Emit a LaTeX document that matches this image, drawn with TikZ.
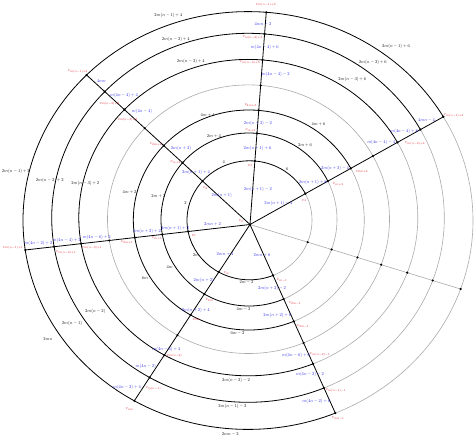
\documentclass[tikz,border=0pt]{standalone}
\usetikzlibrary{intersections,calc}
\definecolor{lblue}{RGB}{35,35,230}
\definecolor{lred}{RGB}{225,35,45}
\definecolor{lgray}{RGB}{170,170,170}
\tikzset{
  lab/.style={inner sep=0pt, outer sep=0pt, scale=0.45, transform shape},
  arclab/.style={lab, text=black},
  spokelab/.style={lab, text=lblue},
  vertlab/.style={lab, text=lred},
  blackline/.style={line width=0.8pt, draw=black},
  greyline/.style={line width=0.6pt, draw=lgray},
  vdot/.style={circle, fill=black, inner sep=0pt, minimum size=2.4pt},
}
\def\ringlist{1/249.5/220.3/62.5/59.5, 2/249/219.5/88/86.5, 3/248.8/220/115.5/110, 4/248.5/219.2/141/134.3, 5/248.3/217.6/169.5/158.2, 6/248/217.8/196.3/184.5, 7/248/220.5/225/208.9}
\def\blackrings{1/249.5/220.3/62.5/59.5, 2/249/219.5/88/86.5, 3/248.8/220/115.5/110, 5/248.3/217.6/169.5/158.2, 6/248/217.8/196.3/184.5, 7/248/220.5/225/208.9}
\begin{document}
\begin{tikzpicture}[x=1pt,y=-1pt]
\useasboundingbox (0,0) rectangle (474,440);
\coordinate (O) at (250,224.5);
\foreach \k/\cx/\cy/\a/\b in \ringlist{
  \path[name path global=ring\k] (\cx,\cy) ellipse [x radius=\a pt, y radius=\b pt];
}
\foreach \r/\px/\py in {W/25/250, NW/87.7/76, N/266.3/11.7, ENE/443/117, ESE/458.3/288.3, SSE/335/412.3, SSW/132.7/403.3}{
  \coordinate (T\r) at (\px,\py);
  \coordinate (F\r) at ($(O)!3!(T\r)$);
  \path[name path global=ray\r] (O) -- ($(O)!1.4!(T\r)$);
}
\foreach \r in {W,NW,N,ENE,ESE,SSE,SSW}{
  \foreach \k in {1,...,7}{
    \path[name intersections={of={ray\r} and {ring\k}, by={\r\k}}];
  }
}
% arcs
\begin{scope}
  \clip (O) -- (FENE) -- (FN) -- (FNW) -- (FW) -- (FSSW) -- (FSSE) -- cycle;
  \foreach \k/\cx/\cy/\a/\b in \blackrings{
    \draw[blackline] (\cx,\cy) ellipse [x radius=\a pt, y radius=\b pt];
  }
\end{scope}
\begin{scope}
  \clip (O) -- (FSSE) -- (FESE) -- (FENE) -- cycle;
  \foreach \k/\cx/\cy/\a/\b in \blackrings{
    \draw[greyline] (\cx,\cy) ellipse [x radius=\a pt, y radius=\b pt];
  }
\end{scope}
\draw[greyline] (248.5,219.2) ellipse [x radius=141pt, y radius=134.3pt];
% spokes
\draw[greyline] (O) -- (ESE7);
\foreach \r in {W,NW,N,ENE,SSE,SSW}{ \draw[blackline] (O) -- (\r7); }
% dots
\foreach \r in {W,NW,N,ENE,ESE,SSE,SSW}{
  \foreach \k in {1,...,7}{ \node[vdot] (d\r\k) at (\r\k) {}; }
}
\node[vdot] (dO) at (O) {};

% arc labels
\node[arclab] (aNE1) at (287,169.5) {$6$};
\node[arclab] (aNE2) at (305,145.5) {$2m+6$};
\node[arclab] (aNE3) at (318.5,124.5) {$4m+6$};
\node[arclab] (aNE5) at (352.3,79) {$2m(n-3)+6$};
\node[arclab] (aNE6) at (372.8,62.3) {$2m(n-2)+6$};
\node[arclab] (aNE7) at (396,46.7) {$2m(n-1)+6$};
\node[arclab] (aNN1) at (223.8,162.5) {$4$};
\node[arclab] (aNN2) at (213.8,136.7) {$2m+4$};
\node[arclab] (aNN3) at (207.5,115) {$4m+4$};
\node[arclab] (aNN5) at (190.8,61) {$2m(n-3)+4$};
\node[arclab] (aNN6) at (175.8,39.3) {$2m(n-2)+4$};
\node[arclab] (aNN7) at (168.3,15.7) {$2m(n-1)+4$};
\node[arclab] (aWN1) at (185.5,203) {$2$};
\node[arclab] (aWN2) at (158.3,196) {$2m+2$};
\node[arclab] (aWN3) at (129.5,192.7) {$4m+2$};
\node[arclab] (aWN5) at (85.3,183.7) {$2m(n-3)+2$};
\node[arclab] (aWN6) at (49.8,180.7) {$2m(n-2)+2$};
\node[arclab] (aWN7) at (15.8,171.7) {$2m(n-1)+2$};
\node[arclab] (aSW1) at (196,255.3) {$2m$};
\node[arclab] (aSW2) at (169.7,266.7) {$4m$};
\node[arclab] (aSW3) at (145,278.3) {$6m$};
\node[arclab] (aSW5) at (95.2,311.7) {$2m(n-2)$};
\node[arclab] (aSW6) at (72,323.3) {$2m(n-1)$};
\node[arclab] (aSW7) at (47.8,339) {$2mn$};
\node[arclab] (aSS1) at (246.5,282.5) {$2m-2$};
\node[arclab] (aSS2) at (243.5,309.5) {$4m-2$};
\node[arclab] (aSS3) at (237.5,333.3) {$6m-2$};
\node[arclab] (aSS5) at (236,380.7) {$2m(n-2)-2$};
\node[arclab] (aSS6) at (232.3,406) {$2m(n-1)-2$};
\node[arclab] (aSS7) at (230.3,434) {$2mn-2$};

% spoke labels
\node[spokelab] (sW0) at (212.5,224.7) {$2mn+2$};
\node[spokelab] (sW1) at (175,228.7) {$2m(n+1)+2$};
\node[spokelab] (sW2) at (147,231) {$2m(n+2)+2$};
\node[spokelab] (sW4) at (96.7,237.5) {$m(4n-6)+2$};
\node[spokelab] (sW5) at (66.7,240.8) {$m(4n-4)+2$};
\node[spokelab] (sW6) at (38.3,243.8) {$m(4n-2)+2$};
\node[spokelab] (sNW0) at (221.7,195) {$2m(n+1)$};
\node[spokelab] (sNW1) at (196,172.3) {$2m(n+1)+4$};
\node[spokelab] (sNW2) at (181,148.3) {$2m(n+3)$};
\node[spokelab] (sNW4) at (142,111) {$m(4n-4)$};
\node[spokelab] (sNW5) at (124,95.7) {$m(4n-4)+4$};
\node[spokelab] (sNW6) at (101.3,80.7) {$4mn$};
\node[spokelab] (sN0) at (257.8,189.3) {$2m(n+1)-2$};
\node[spokelab] (sN1) at (257.5,148.7) {$2m(n+1)+6$};
\node[spokelab] (sN2) at (257.8,123.3) {$2m(n+3)-2$};
\node[spokelab] (sN4) at (275.7,74) {$m(4n-4)-2$};
\node[spokelab] (sN5) at (264.8,47.3) {$m(4n-4)+6$};
\node[spokelab] (sN6) at (263,24) {$4mn-2$};
\node[spokelab] (sE0) at (278.3,203.3) {$2m(n+1)-4$};
\node[spokelab] (sE1) at (312.8,182.7) {$2m(n+1)+8$};
\node[spokelab] (sE2) at (335,168.3) {$2m(n+3)-4$};
\node[spokelab] (sE4) at (381.2,142.7) {$m(4n-4)-4$};
\node[spokelab] (sE5) at (404,131) {$m(4n-4)+8$};
\node[spokelab] (sE6) at (426.5,120) {$4mn-4$};
\node[spokelab] (sS0) at (262,255) {$2mn+6$};
\node[spokelab] (sS1) at (272,288.5) {$2m(n+2)-2$};
\node[spokelab] (sS2) at (277.3,315) {$2m(n+2)+6$};
\node[spokelab] (sS4) at (296,355.7) {$m(4n-6)+6$};
\node[spokelab] (sS5) at (310,374) {$m(4n-2)-2$};
\node[spokelab] (sS6) at (316.3,401) {$m(4n-2)+6$};
\node[spokelab] (sSW0) at (225,254.3) {$2mn+4$};
\node[spokelab] (sSW1) at (203.7,280) {$2m(n+2)$};
\node[spokelab] (sSW2) at (195.8,310) {$2m(n+2)+4$};
\node[spokelab] (sSW4) at (166.3,349) {$m(4n-6)+4$};
\node[spokelab] (sSW5) at (145.8,366.7) {$m(4n-2)$};
\node[spokelab] (sSW6) at (127,387.7) {$m(4n-2)+4$};

% vertex labels
\node[vertlab] (vO) at (241,221) {$v_0$};
\node[vertlab] (vW1) at (194,235.5) {$v_1$};
\node[vertlab] (vW2) at (157,238.5) {$v_{m+1}$};
\node[vertlab] (vW3) at (127,242) {$v_{2m+1}$};
\node[vertlab] (vW5) at (92,248) {$v_{m(n-3)+1}$};
\node[vertlab] (vW6) at (66,252.5) {$v_{m(n-2)+1}$};
\node[vertlab] (vW7) at (13,248) {$v_{m(n-1)+1}$};
\node[vertlab] (vNW1) at (205.3,188) {$v_2$};
\node[vertlab] (vNW2) at (175.5,162.5) {$v_{m+2}$};
\node[vertlab] (vNW3) at (156,144.5) {$v_{2m+2}$};
\node[vertlab] (vNW5) at (127.5,120) {$v_{m(n-3)+2}$};
\node[vertlab] (vNW6) at (109.5,104) {$v_{m(n-2)+2}$};
\node[vertlab] (vNW7) at (77.8,71.7) {$v_{m(n-1)+2}$};
\node[vertlab] (vN1) at (250,165.5) {$v_3$};
\node[vertlab] (vN2) at (250.5,130) {$v_{m+3}$};
\node[vertlab] (vN3) at (250.5,105.5) {$v_{2m+3}$};
\node[vertlab] (vN5) at (250,62.3) {$v_{m(n-3)+3}$};
\node[vertlab] (vN6) at (252.5,37.3) {$v_{m(n-2)+3}$};
\node[vertlab] (vN7) at (266,5) {$v_{m(n-1)+3}$};
\node[vertlab] (vE1) at (304,200.5) {$v_4$};
\node[vertlab] (vE2) at (338,184.5) {$v_{m+4}$};
\node[vertlab] (vE3) at (362,171.7) {$v_{2m+4}$};
\node[vertlab] (vE6) at (415,143.3) {$v_{m(n-2)+4}$};
\node[vertlab] (vE7) at (453.7,115.5) {$v_{m(n-1)+4}$};
\node[vertlab] (vS1) at (282,280) {$v_{m-1}$};
\node[vertlab] (vS2) at (295,303) {$v_{2m-1}$};
\node[vertlab] (vS3) at (303,326) {$v_{3m-1}$};
\node[vertlab] (vS5) at (320,354.5) {$v_{m(n-2)-1}$};
\node[vertlab] (vS6) at (335.7,390.5) {$v_{m(n-1)-1}$};
\node[vertlab] (vS7) at (338,418.3) {$v_{mn-1}$};
\node[vertlab] (vSW1) at (227,272.7) {$v_m$};
\node[vertlab] (vSW2) at (209.5,300) {$v_{2m}$};
\node[vertlab] (vSW3) at (196.5,319.5) {$v_{3m}$};
\node[vertlab] (vSW5) at (174.5,356) {$v_{m(n-2)}$};
\node[vertlab] (vSW6) at (153.3,388.3) {$v_{m(n-1)}$};
\node[vertlab] (vSW7) at (129.5,408.7) {$v_{mn}$};
\end{tikzpicture}
\end{document}
